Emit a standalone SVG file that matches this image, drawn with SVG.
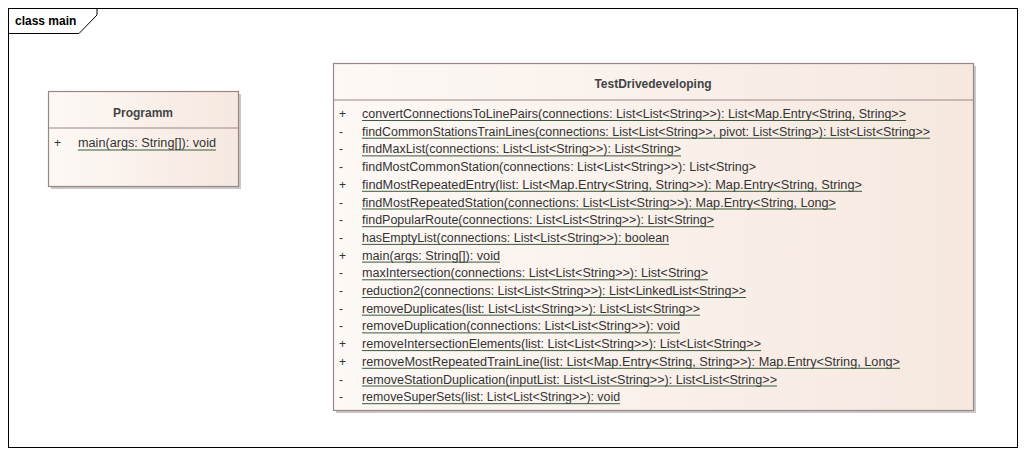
<svg xmlns="http://www.w3.org/2000/svg" width="1026" height="456" viewBox="0 0 1026 456">
<defs>
<linearGradient id="g" x1="0" y1="0" x2="1" y2="0">
<stop offset="0" stop-color="#fdf9f6"/>
<stop offset="1" stop-color="#f6e8df"/>
</linearGradient>
</defs>
<style>
.frame{fill:none;stroke:#000;stroke-width:1}
.box{fill:url(#g);stroke:#9b8585;stroke-width:1.2}
.shadow{fill:#c9c9c9}
.div{stroke:#9b8585;stroke-width:1.2}
.t{font-family:"Liberation Sans",Arial,sans-serif;font-size:12px;fill:#333}
.b{font-family:"Liberation Sans",Arial,sans-serif;font-size:12px;font-weight:bold;fill:#444}
.u{stroke:#3b5a3b;stroke-width:1}
</style>
<rect width="1026" height="456" fill="#fff"/>
<g id="frame">
<rect class="frame" x="8.5" y="8.5" width="1009" height="439"/>
<path class="frame" d="M8.5 33.5 H79 L97 15 V8.5"/>
<text class="b" x="15" y="25" fill="#000" style="fill:#000">class main</text>
</g>
<g id="connectors"></g>
<g id="Programm">
<rect class="shadow" x="51" y="94" width="190" height="95"/>
<rect class="box" x="48.5" y="91.5" width="190" height="95"/>
<line class="div" x1="48.5" y1="128" x2="238.5" y2="128"/>
<text class="b" x="143" y="117" text-anchor="middle">Programm</text>
<text class="t" x="54" y="147">+</text>
<text class="t" x="78" y="147" textLength="138" lengthAdjust="spacingAndGlyphs">main(args: String[]): void</text>
<line class="u" x1="78" y1="150" x2="216" y2="150"/>
</g>
<g id="TestDrivedeveloping">
<rect class="shadow" x="336" y="66" width="640" height="347"/>
<rect class="box" x="333.5" y="63.5" width="640" height="347"/>
<line class="div" x1="333.5" y1="100" x2="973.5" y2="100"/>
<text class="b" x="653" y="88" text-anchor="middle">TestDrivedeveloping</text>
<g class="t">
<text x="339" y="118">+</text>
<text x="339" y="135.7">-</text>
<text x="339" y="153.4">-</text>
<text x="339" y="171.1">-</text>
<text x="339" y="188.8">+</text>
<text x="339" y="206.5">-</text>
<text x="339" y="224.2">-</text>
<text x="339" y="241.9">-</text>
<text x="339" y="259.6">+</text>
<text x="339" y="277.3">-</text>
<text x="339" y="295">-</text>
<text x="339" y="312.7">-</text>
<text x="339" y="330.4">-</text>
<text x="339" y="348.1">+</text>
<text x="339" y="365.8">+</text>
<text x="339" y="383.5">-</text>
<text x="339" y="401.2">-</text>
</g>
<g class="t">
<text x="362" y="118" textLength="544" lengthAdjust="spacingAndGlyphs">convertConnectionsToLinePairs(connections: List&lt;List&lt;String&gt;&gt;): List&lt;Map.Entry&lt;String, String&gt;&gt;</text>
<text x="362" y="135.7" textLength="568" lengthAdjust="spacingAndGlyphs">findCommonStationsTrainLines(connections: List&lt;List&lt;String&gt;&gt;, pivot: List&lt;String&gt;): List&lt;List&lt;String&gt;&gt;</text>
<text x="362" y="153.4" textLength="319" lengthAdjust="spacingAndGlyphs">findMaxList(connections: List&lt;List&lt;String&gt;&gt;): List&lt;String&gt;</text>
<text x="362" y="171.1" textLength="394" lengthAdjust="spacingAndGlyphs">findMostCommonStation(connections: List&lt;List&lt;String&gt;&gt;): List&lt;String&gt;</text>
<text x="362" y="188.8" textLength="500" lengthAdjust="spacingAndGlyphs">findMostRepeatedEntry(list: List&lt;Map.Entry&lt;String, String&gt;&gt;): Map.Entry&lt;String, String&gt;</text>
<text x="362" y="206.5" textLength="474" lengthAdjust="spacingAndGlyphs">findMostRepeatedStation(connections: List&lt;List&lt;String&gt;&gt;): Map.Entry&lt;String, Long&gt;</text>
<text x="362" y="224.2" textLength="352" lengthAdjust="spacingAndGlyphs">findPopularRoute(connections: List&lt;List&lt;String&gt;&gt;): List&lt;String&gt;</text>
<text x="362" y="241.9" textLength="307" lengthAdjust="spacingAndGlyphs">hasEmptyList(connections: List&lt;List&lt;String&gt;&gt;): boolean</text>
<text x="362" y="259.6" textLength="138" lengthAdjust="spacingAndGlyphs">main(args: String[]): void</text>
<text x="362" y="277.3" textLength="346" lengthAdjust="spacingAndGlyphs">maxIntersection(connections: List&lt;List&lt;String&gt;&gt;): List&lt;String&gt;</text>
<text x="362" y="295" textLength="384" lengthAdjust="spacingAndGlyphs">reduction2(connections: List&lt;List&lt;String&gt;&gt;): List&lt;LinkedList&lt;String&gt;&gt;</text>
<text x="362" y="312.7" textLength="338" lengthAdjust="spacingAndGlyphs">removeDuplicates(list: List&lt;List&lt;String&gt;&gt;): List&lt;List&lt;String&gt;&gt;</text>
<text x="362" y="330.4" textLength="318" lengthAdjust="spacingAndGlyphs">removeDuplication(connections: List&lt;List&lt;String&gt;&gt;): void</text>
<text x="362" y="348.1" textLength="399" lengthAdjust="spacingAndGlyphs">removeIntersectionElements(list: List&lt;List&lt;String&gt;&gt;): List&lt;List&lt;String&gt;&gt;</text>
<text x="362" y="365.8" textLength="538" lengthAdjust="spacingAndGlyphs">removeMostRepeatedTrainLine(list: List&lt;Map.Entry&lt;String, String&gt;&gt;): Map.Entry&lt;String, Long&gt;</text>
<text x="362" y="383.5" textLength="415" lengthAdjust="spacingAndGlyphs">removeStationDuplication(inputList: List&lt;List&lt;String&gt;&gt;): List&lt;List&lt;String&gt;&gt;</text>
<text x="362" y="401.2" textLength="258" lengthAdjust="spacingAndGlyphs">removeSuperSets(list: List&lt;List&lt;String&gt;&gt;): void</text>
</g>
<g class="u">
<line x1="362" y1="120.5" x2="906" y2="120.5"/>
<line x1="362" y1="138.2" x2="930" y2="138.2"/>
<line x1="362" y1="155.9" x2="681" y2="155.9"/>
<line x1="362" y1="191.3" x2="862" y2="191.3"/>
<line x1="362" y1="209" x2="836" y2="209"/>
<line x1="362" y1="226.7" x2="714" y2="226.7"/>
<line x1="362" y1="244.4" x2="669" y2="244.4"/>
<line x1="362" y1="262.1" x2="500" y2="262.1"/>
<line x1="362" y1="279.8" x2="708" y2="279.8"/>
<line x1="362" y1="297.5" x2="746" y2="297.5"/>
<line x1="362" y1="315.2" x2="700" y2="315.2"/>
<line x1="362" y1="332.9" x2="680" y2="332.9"/>
<line x1="362" y1="350.6" x2="761" y2="350.6"/>
<line x1="362" y1="368.3" x2="900" y2="368.3"/>
<line x1="362" y1="386" x2="777" y2="386"/>
<line x1="362" y1="403.7" x2="620" y2="403.7"/>
</g>
</g>
</svg>
